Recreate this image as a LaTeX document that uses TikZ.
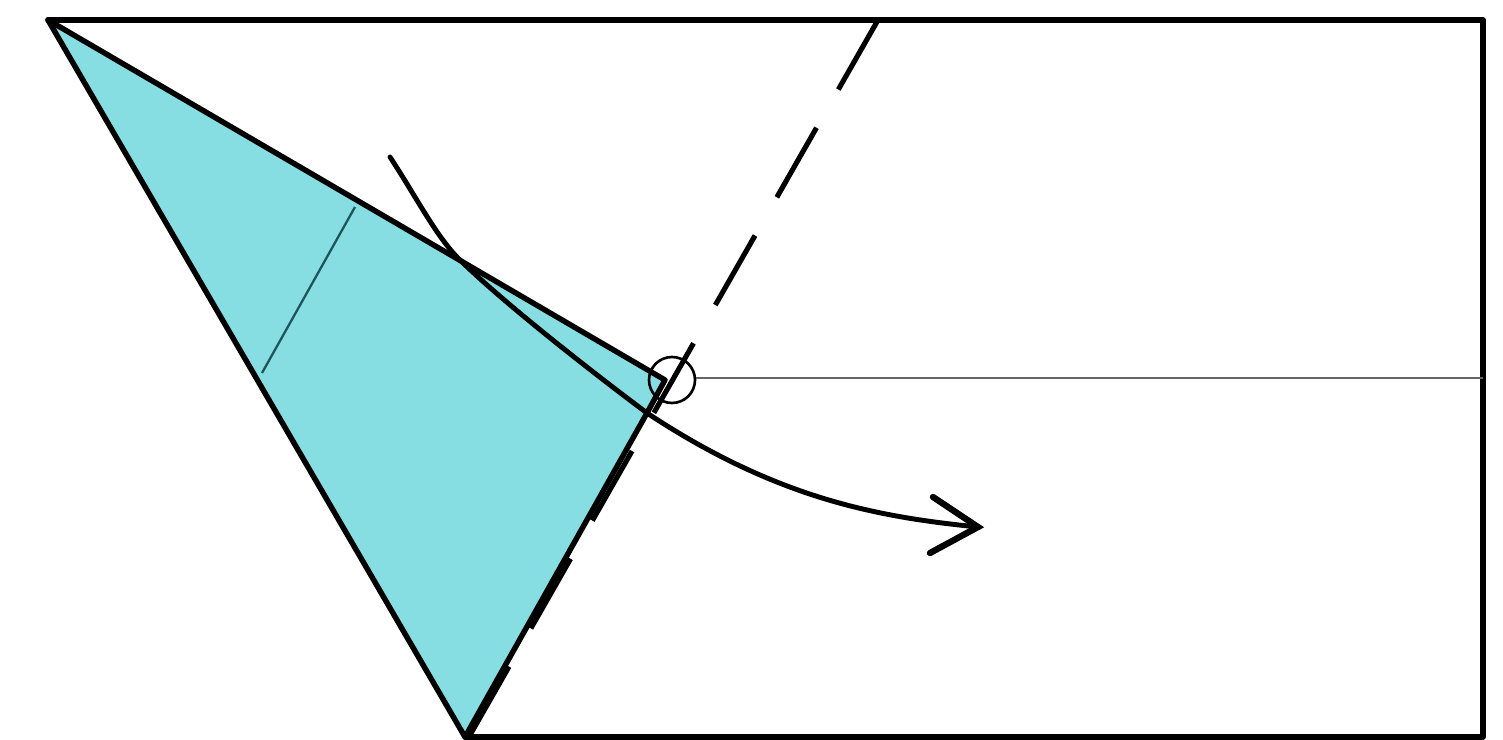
\documentclass[tikz,border=0pt]{standalone}
\begin{document}
\begin{tikzpicture}[x=0.01cm,y=-0.01cm,
  edge/.style={line width=1.55pt,line join=round,line cap=round},
  thinfold/.style={line width=0.65pt,draw=foldteal},
  foldline/.style={line width=1.45pt,dash pattern=on 0.8cm off 0.44cm},
  guide/.style={line width=0.6pt,draw=black!60}]
\definecolor{paperblue}{RGB}{135,222,226}
\definecolor{foldteal}{RGB}{30,85,90}
\useasboundingbox (0,0) rectangle (1503,740);
% coordinates
\coordinate (A) at (48,20);
\coordinate (TR) at (1483,20);
\coordinate (BR) at (1483,737);
\coordinate (B) at (465,737);
\coordinate (C) at (647,413);
\coordinate (D) at (665,380);
\coordinate (FT) at (878,20);
\coordinate (FB) at (470,735);
\coordinate (P1) at (355,207);
\coordinate (P2) at (262,373);
\coordinate (O) at (672,380);
\coordinate (M1) at (695,378);
\coordinate (M2) at (1483,378);
\coordinate (S) at (390,157);
\coordinate (X) at (458,258);
\coordinate (E) at (978,527);
\coordinate (H1) at (933,497);
\coordinate (H2) at (930,553);
% blue flap
\fill[paperblue] (A) -- (D) -- (C) -- (B) -- cycle;
\draw[thinfold] (P1) -- (P2);
% paper outline
\draw[edge] (B) -- (BR) -- (TR) -- (A);
\draw[edge] (A) -- (D) -- (C) -- (B) -- cycle;
% middle crease
\draw[guide] (M1) -- (M2);
% fold line (dashed)
\draw[foldline] (FT) -- (FB);
% circle
\draw[line width=0.75pt] (O) circle[radius=23];
% arrow
\draw[edge,line width=1.4pt] (S) .. controls (415,195) and (436,236) .. (X)
  .. controls (500,300) and (592,372) .. (C)
  .. controls (777,499) and (878,517) .. (E);
\draw[edge,line width=1.8pt,line join=miter] (H1) -- (E) -- (H2);
\end{tikzpicture}
\end{document}
